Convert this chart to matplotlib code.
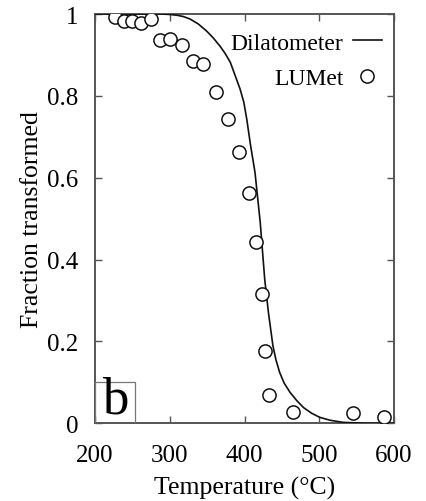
import matplotlib.pyplot as plt
from matplotlib.patches import Rectangle
from matplotlib.lines import Line2D

plt.rcParams['font.family'] = ['Liberation Serif', 'DejaVu Serif']

# Dilatometer curve
dil_temp = [200, 250, 290, 300, 310, 318, 327, 338, 349, 358, 367, 374, 381,
            387, 394, 399, 403, 408, 414, 421, 427, 432, 438, 442, 447, 453,
            461, 470, 479, 490, 501, 515, 532, 560, 600]
dil_frac = [1.0, 1.0, 1.0, 0.999, 0.997, 0.994, 0.988, 0.976, 0.959, 0.942,
            0.922, 0.904, 0.882, 0.852, 0.817, 0.785, 0.743, 0.68, 0.613,
            0.491, 0.352, 0.27, 0.189, 0.155, 0.124, 0.098, 0.075, 0.055,
            0.038, 0.024, 0.014, 0.007, 0.002, 0.0, 0.0]

# LUMet model points
lumet_temp = [227, 239, 250, 261, 275, 287, 300, 316, 331, 345, 362, 378,
              393, 406, 416, 423, 428, 433, 465, 545, 586]
lumet_frac = [0.992, 0.982, 0.984, 0.977, 0.989, 0.936, 0.940, 0.924, 0.886,
              0.878, 0.810, 0.743, 0.663, 0.562, 0.443, 0.315, 0.177, 0.068,
              0.028, 0.024, 0.016]

fig = plt.figure(figsize=(4.26, 5.02), dpi=100)
ax = fig.add_axes([0.223, 0.155, 0.702, 0.815])

ax.plot(dil_temp, dil_frac, color='#111111', lw=1.2, zorder=3)
ax.plot(lumet_temp, lumet_frac, ls='none', marker='o', ms=9.5,
        mfc='white', mec='#111111', mew=1.1, zorder=4)

ax.set_xlim(200, 600)
ax.set_ylim(0, 1)
ax.set_xticks([200, 300, 400, 500, 600])
ax.set_yticks([0, 0.2, 0.4, 0.6, 0.8, 1.0])
ax.set_yticklabels(['0', '0.2', '0.4', '0.6', '0.8', '1'])
ax.tick_params(direction='in', length=5, width=1.0, color='#555555',
               top=True, right=True, labelsize=18)
ax.tick_params(axis='x', pad=15)
ax.tick_params(axis='y', pad=12)
for s in ax.spines.values():
    s.set_color('#555555')
    s.set_linewidth(1.4)

ax.set_xlabel('Temperature (°C)', fontsize=18.5, labelpad=7)
ax.set_ylabel('Fraction transformed', fontsize=18.5, labelpad=3)

# gnuplot-style key: text on the left, sample on the right
handles = [Line2D([], [], color='#111111', lw=1.2),
           Line2D([], [], ls='none', marker='o', ms=9.5, mfc='white',
                  mec='#111111', mew=1.1)]
leg = ax.legend(handles, ['Dilatometer', 'LUMet'], loc='upper right',
                bbox_to_anchor=(1.0, 0.985), frameon=False, fontsize=17,
                markerfirst=False, handlelength=1.25, handletextpad=0.4,
                labelspacing=0.6, borderaxespad=0.1)

# panel label
ax.add_patch(Rectangle((0, 0), 0.135, 0.1, transform=ax.transAxes,
                       fill=False, ec='#777777', lw=0.9, zorder=5))
ax.text(0.0675, 0.0, 'b', transform=ax.transAxes, ha='center',
        va='bottom', fontsize=38, zorder=6)

fig.savefig('out.png', dpi=100)
